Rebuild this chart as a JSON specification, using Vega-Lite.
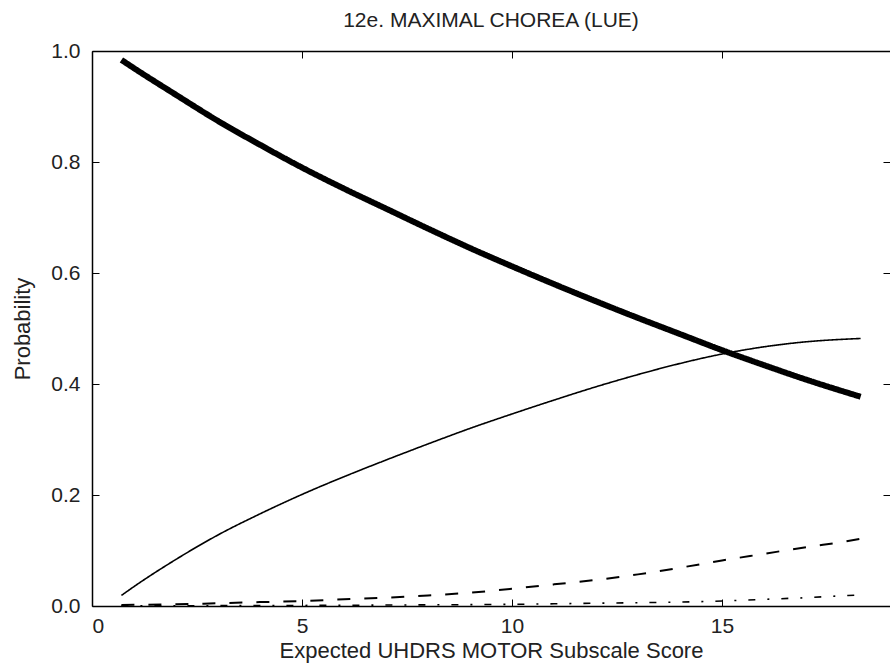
{
  "$schema": "https://vega.github.io/schema/vega-lite/v6.json",
  "autosize": {"type": "none"},
  "width": 798,
  "height": 555,
  "padding": {"left": 92, "top": 51, "right": 0, "bottom": 60},
  "background": "white",
  "title": {
    "text": "12e. MAXIMAL CHOREA (LUE)",
    "anchor": "middle",
    "offset": 9,
    "font": "Liberation Sans",
    "fontSize": 21,
    "fontWeight": "normal",
    "color": "#222222"
  },
  "config": {
    "view": {"stroke": null},
    "axis": {
      "grid": false,
      "domainColor": "black",
      "domainWidth": 1.5,
      "tickColor": "black",
      "tickWidth": 1,
      "tickSize": -7,
      "labelFont": "Liberation Sans",
      "labelFontSize": 21,
      "labelColor": "#222222",
      "titleFont": "Liberation Sans",
      "titleFontSize": 22,
      "titleFontWeight": "normal",
      "titleColor": "#222222"
    }
  },
  "datasets": {
    "curves": [
      {"score": 0.7, "grade": "0", "prob": 0.984},
      {"score": 1, "grade": "0", "prob": 0.969},
      {"score": 2, "grade": "0", "prob": 0.921},
      {"score": 3, "grade": "0", "prob": 0.874},
      {"score": 4, "grade": "0", "prob": 0.831},
      {"score": 5, "grade": "0", "prob": 0.790},
      {"score": 6, "grade": "0", "prob": 0.752},
      {"score": 7, "grade": "0", "prob": 0.716},
      {"score": 8, "grade": "0", "prob": 0.680},
      {"score": 9, "grade": "0", "prob": 0.645},
      {"score": 10, "grade": "0", "prob": 0.612},
      {"score": 11, "grade": "0", "prob": 0.580},
      {"score": 12, "grade": "0", "prob": 0.549},
      {"score": 13, "grade": "0", "prob": 0.519},
      {"score": 14, "grade": "0", "prob": 0.490},
      {"score": 15, "grade": "0", "prob": 0.461},
      {"score": 16, "grade": "0", "prob": 0.434},
      {"score": 17, "grade": "0", "prob": 0.408},
      {"score": 18, "grade": "0", "prob": 0.384},
      {"score": 18.3, "grade": "0", "prob": 0.377},

      {"score": 0.7, "grade": "1", "prob": 0.019},
      {"score": 1, "grade": "1", "prob": 0.035},
      {"score": 2, "grade": "1", "prob": 0.084},
      {"score": 3, "grade": "1", "prob": 0.128},
      {"score": 4, "grade": "1", "prob": 0.166},
      {"score": 5, "grade": "1", "prob": 0.201},
      {"score": 6, "grade": "1", "prob": 0.233},
      {"score": 7, "grade": "1", "prob": 0.263},
      {"score": 8, "grade": "1", "prob": 0.292},
      {"score": 9, "grade": "1", "prob": 0.320},
      {"score": 10, "grade": "1", "prob": 0.346},
      {"score": 11, "grade": "1", "prob": 0.371},
      {"score": 12, "grade": "1", "prob": 0.395},
      {"score": 13, "grade": "1", "prob": 0.417},
      {"score": 14, "grade": "1", "prob": 0.437},
      {"score": 15, "grade": "1", "prob": 0.454},
      {"score": 16, "grade": "1", "prob": 0.467},
      {"score": 17, "grade": "1", "prob": 0.476},
      {"score": 18, "grade": "1", "prob": 0.481},
      {"score": 18.3, "grade": "1", "prob": 0.482},

      {"score": 0.7, "grade": "2", "prob": 0.002},
      {"score": 2, "grade": "2", "prob": 0.003},
      {"score": 3, "grade": "2", "prob": 0.005},
      {"score": 4, "grade": "2", "prob": 0.007},
      {"score": 5, "grade": "2", "prob": 0.009},
      {"score": 6, "grade": "2", "prob": 0.012},
      {"score": 7, "grade": "2", "prob": 0.015},
      {"score": 8, "grade": "2", "prob": 0.019},
      {"score": 9, "grade": "2", "prob": 0.024},
      {"score": 10, "grade": "2", "prob": 0.031},
      {"score": 11, "grade": "2", "prob": 0.039},
      {"score": 12, "grade": "2", "prob": 0.047},
      {"score": 13, "grade": "2", "prob": 0.057},
      {"score": 14, "grade": "2", "prob": 0.069},
      {"score": 15, "grade": "2", "prob": 0.082},
      {"score": 16, "grade": "2", "prob": 0.094},
      {"score": 17, "grade": "2", "prob": 0.106},
      {"score": 18, "grade": "2", "prob": 0.117},
      {"score": 18.3, "grade": "2", "prob": 0.121},

      {"score": 0.7, "grade": "3", "prob": 0.0003},
      {"score": 3, "grade": "3", "prob": 0.0006},
      {"score": 5, "grade": "3", "prob": 0.001},
      {"score": 7, "grade": "3", "prob": 0.0017},
      {"score": 9, "grade": "3", "prob": 0.0025},
      {"score": 10, "grade": "3", "prob": 0.003},
      {"score": 11, "grade": "3", "prob": 0.004},
      {"score": 12, "grade": "3", "prob": 0.005},
      {"score": 13, "grade": "3", "prob": 0.006},
      {"score": 14, "grade": "3", "prob": 0.007},
      {"score": 15, "grade": "3", "prob": 0.009},
      {"score": 16, "grade": "3", "prob": 0.012},
      {"score": 17, "grade": "3", "prob": 0.015},
      {"score": 18, "grade": "3", "prob": 0.019},
      {"score": 18.3, "grade": "3", "prob": 0.020}
    ]
  },
  "data": {"name": "curves"},
  "encoding": {
    "x": {
      "field": "score",
      "type": "quantitative",
      "scale": {"domain": [0, 19], "nice": false, "zero": false}
    },
    "y": {
      "field": "prob",
      "type": "quantitative",
      "scale": {"domain": [0, 1], "nice": false}
    }
  },
  "layer": [
    {
      "mark": {"type": "line", "color": "black", "strokeCap": "butt", "interpolate": "monotone", "clip": false},
      "encoding": {
        "x": {
          "field": "score",
          "type": "quantitative",
          "axis": {
            "orient": "bottom",
            "values": [0, 5, 10, 15],
            "format": "d",
            "labelPadding": 16,
            "title": "Expected UHDRS MOTOR Subscale Score",
            "titlePadding": 4
          }
        },
        "y": {
          "field": "prob",
          "type": "quantitative",
          "axis": {
            "orient": "left",
            "values": [0, 0.2, 0.4, 0.6, 0.8, 1.0],
            "format": ".1f",
            "labelPadding": 19,
            "title": "Probability",
            "titlePadding": 16
          }
        },
        "detail": {"field": "grade"},
        "strokeWidth": {
          "field": "grade",
          "type": "nominal",
          "scale": {"type": "ordinal", "domain": ["0", "1", "2", "3"], "range": [6, 1.6, 2, 1.6]},
          "legend": null
        },
        "strokeDash": {
          "field": "grade",
          "type": "nominal",
          "scale": {"domain": ["0", "1", "2", "3"], "range": [[1, 0], [1, 0], [13, 14], [7, 12, 2, 12]]},
          "legend": null
        }
      }
    },
    {
      "mark": {"type": "line", "opacity": 0},
      "encoding": {
        "x": {
          "field": "score",
          "type": "quantitative",
          "axis": {"orient": "top", "values": [0, 5, 10, 15], "labels": false, "title": null}
        },
        "y": {
          "field": "prob",
          "type": "quantitative",
          "axis": {"orient": "right", "values": [0, 0.2, 0.4, 0.6, 0.8, 1.0], "labels": false, "domain": false, "title": null}
        },
        "detail": {"field": "grade"}
      }
    }
  ],
  "resolve": {"axis": {"x": "independent", "y": "independent"}}
}
